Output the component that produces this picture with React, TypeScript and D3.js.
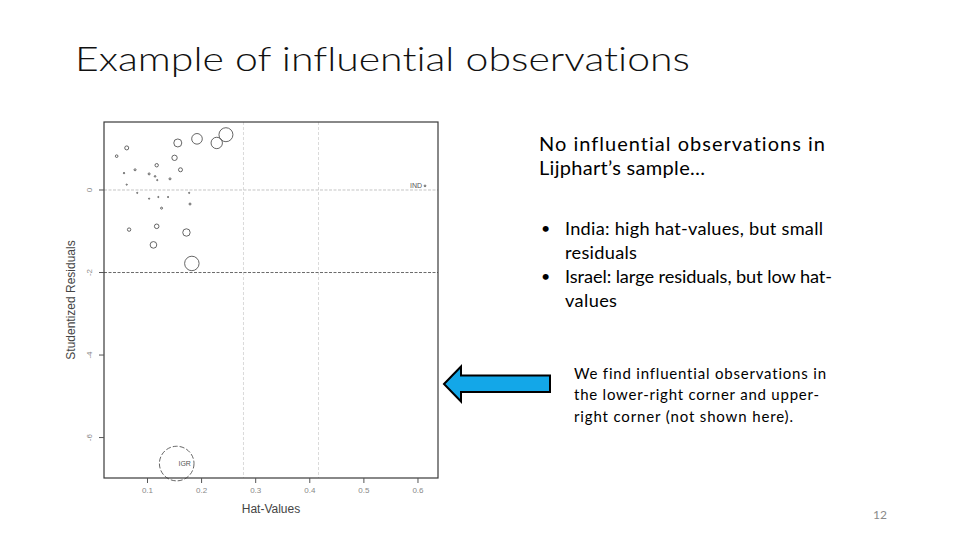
import { scaleLinear, scaleSqrt } from 'd3';

// hat-values, studentized residuals and Cook's distances
const hatValues = [
  0.245, 0.228, 0.1915, 0.156, 0.0616, 0.043, 0.15, 0.117, 0.161, 0.077,
  0.0566, 0.103, 0.114, 0.118, 0.1416, 0.0616, 0.081, 0.103, 0.12, 0.138,
  0.177, 0.1786, 0.126, 0.066, 0.117, 0.172, 0.111, 0.182, 0.154, 0.613,
];
const residuals = [
  1.34, 1.14, 1.24, 1.14, 1.02, 0.82, 0.78, 0.6, 0.49, 0.49, 0.41, 0.39, 0.33,
  0.24, 0.27, 0.13, -0.07, -0.21, -0.17, -0.17, -0.07, -0.34, -0.44, -0.96,
  -0.88, -1.03, -1.33, -1.78, -6.63, 0.1,
];
const cookD = [
  0.196, 0.13, 0.113, 0.064, 0.016, 0.0068, 0.029, 0.0116, 0.016, 0.004,
  0.002, 0.004, 0.0026, 0.0015, 0.004, 0.001, 0.001, 0.001, 0.001, 0.001,
  0.0015, 0.004, 0.004, 0.0116, 0.021, 0.055, 0.044, 0.21, 1.2, 0.003,
];
const pointLabels = [
  '', '', '', '', '', '', '', '', '', '', '', '', '', '', '', '', '', '', '',
  '', '', '', '', '', '', '', '', '', 'IGR', 'IND',
];

const xTicks = [0.1, 0.2, 0.3, 0.4, 0.5, 0.6];
const yTicks = [0, -2, -4, -6];
const hRefLines = [0, -2];
const meanHat = 0.1387;
const vRefLines = [2 * meanHat, 3 * meanHat];

const title = 'Example of influential observations';
const introLines = ['No influential observations in', 'Lijphart’s sample…'];
const introWidths = [286, 166];
const bullets = [
  ['India: high hat-values, but small', 'residuals'],
  ['Israel: large residuals, but low hat-', 'values'],
];
const bulletWidths = [
  [258, 72],
  [267, 52],
];
const noteLines = [
  'We find influential observations in',
  'the lower-right corner and upper-',
  'right corner (not shown here).',
];
const noteWidths = [252, 245, 219];
const pageNumber = '12';

const W = 960;
const H = 540;
const plot = { left: 104, right: 438, top: 122, bottom: 478 };

export default function App() {
  const x = scaleLinear().domain([0.0196, 0.637]).range([plot.left, plot.right]);
  const y = scaleLinear().domain([-6.98, 1.648]).range([plot.bottom, plot.top]);
  const r = scaleSqrt().domain([0, 1.2]).range([0, 17.3]);

  const rFont = 'Liberation Sans, Arial, sans-serif';
  const sFont = 'Lato, Carlito, Calibri, sans-serif';
  const noLig = { fontVariantLigatures: 'none' as const };

  // arrow geometry (slide shape)
  const ax0 = 444;
  const ax1 = 550;
  const ay = 384;
  const headX = 461;
  const arrowPath = `M${ax0},${ay} L${headX},${ay - 17.5} L${headX},${ay - 8.5} L${ax1},${ay - 8.5} L${ax1},${ay + 8} L${headX},${ay + 8} L${headX},${ay + 17.5} Z`;

  return (
    <div style={{ position: 'absolute', left: 0, top: 0 }}>
      <svg width={W} height={H} style={{ display: 'block', background: '#fff' }}>
        {/* slide title */}
        <text
          x={75}
          y={71}
          fontFamily={sFont}
          fontWeight={300}
          fontSize={34}
          fill="#111"
          textLength={615}
          lengthAdjust="spacingAndGlyphs"
          style={noLig}
        >
          {title}
        </text>

        {/* reference lines */}
        {vRefLines.map((v) => (
          <line
            key={`v${v}`}
            x1={x(v)}
            x2={x(v)}
            y1={plot.top}
            y2={plot.bottom}
            stroke="#dadada"
            strokeWidth={1}
            strokeDasharray="3,2"
          />
        ))}
        {hRefLines.map((v) => (
          <line
            key={`h${v}`}
            x1={plot.left}
            x2={plot.right}
            y1={y(v)}
            y2={y(v)}
            stroke={v === 0 ? '#c4c4c4' : '#6a6a6a'}
            strokeWidth={1}
            strokeDasharray="3,1.5"
          />
        ))}

        {/* bubbles */}
        {hatValues.map((h, i) => (
          <circle
            key={i}
            cx={x(h)}
            cy={y(residuals[i])}
            r={Math.max(r(cookD[i]), 0.6)}
            fill="none"
            stroke="#4a4a4a"
            strokeWidth={0.85}
            strokeDasharray={i === 28 ? '5,2' : undefined}
          />
        ))}
        {hatValues.map((h, i) =>
          pointLabels[i] ? (
            <text
              key={`l${i}`}
              x={i === 28 ? x(h) + 8 : x(h) - 3}
              y={y(residuals[i]) + 2.5}
              textAnchor={i === 28 ? 'middle' : 'end'}
              fontFamily={rFont}
              fontSize={7}
              fill="#555"
            >
              {pointLabels[i]}
            </text>
          ) : null
        )}

        {/* box */}
        <rect
          x={plot.left}
          y={plot.top}
          width={plot.right - plot.left}
          height={plot.bottom - plot.top}
          fill="none"
          stroke="#3a3a3a"
          strokeWidth={1.2}
        />

        {/* x axis */}
        {xTicks.map((t) => (
          <g key={`xt${t}`}>
            <line x1={x(t)} x2={x(t)} y1={plot.bottom} y2={plot.bottom + 5} stroke="#555" />
            <text
              x={x(t)}
              y={plot.bottom + 15}
              textAnchor="middle"
              fontFamily={rFont}
              fontSize={8}
              fill="#888"
            >
              {t.toFixed(1)}
            </text>
          </g>
        ))}
        <text
          x={(plot.left + plot.right) / 2}
          y={513}
          textAnchor="middle"
          fontFamily={rFont}
          fontSize={12}
          fill="#444"
        >
          Hat-Values
        </text>

        {/* y axis */}
        {yTicks.map((t) => (
          <g key={`yt${t}`}>
            <line x1={plot.left - 5} x2={plot.left} y1={y(t)} y2={y(t)} stroke="#555" />
            <text
              transform={`translate(${plot.left - 12},${y(t)}) rotate(-90)`}
              textAnchor="middle"
              fontFamily={rFont}
              fontSize={8}
              fill="#888"
            >
              {t}
            </text>
          </g>
        ))}
        <text
          transform={`translate(75,${(plot.top + plot.bottom) / 2}) rotate(-90)`}
          textAnchor="middle"
          fontFamily={rFont}
          fontSize={12}
          fill="#444"
        >
          Studentized Residuals
        </text>

        {/* arrow */}
        <path d={arrowPath} fill="#13a7e8" stroke="#000" strokeWidth={2} strokeLinejoin="miter" />

        {/* right-hand text */}
        {introLines.map((s, i) => (
          <text
            key={`in${i}`}
            x={539}
            y={151 + i * 24}
            fontFamily={sFont}
            fontSize={20}
            fill="#000"
            textLength={introWidths[i]}
            lengthAdjust="spacing"
            style={noLig}
          >
            {s}
          </text>
        ))}
        {bullets.map((b, bi) =>
          b.map((s, li) => (
            <g key={`b${bi}${li}`}>
              {li === 0 ? (
                <text x={541} y={234 + (bi * 2 + li) * 24} fontFamily={sFont} fontSize={16} fill="#000">
                  •
                </text>
              ) : null}
              <text
                x={565}
                y={235 + (bi * 2 + li) * 24}
                fontFamily={sFont}
                fontSize={18.2}
                fill="#000"
                textLength={bulletWidths[bi][li]}
                lengthAdjust="spacing"
                style={noLig}
              >
                {s}
              </text>
            </g>
          ))
        )}
        {noteLines.map((s, i) => (
          <text
            key={`n${i}`}
            x={574}
            y={378.5 + i * 21.5}
            fontFamily={sFont}
            fontSize={15}
            fill="#000"
            textLength={noteWidths[i]}
            lengthAdjust="spacing"
            style={noLig}
          >
            {s}
          </text>
        ))}
        <text x={880} y={519} textAnchor="middle" fontFamily={sFont} fontSize={12} fill="#8a8a8a">
          {pageNumber}
        </text>
      </svg>
    </div>
  );
}
